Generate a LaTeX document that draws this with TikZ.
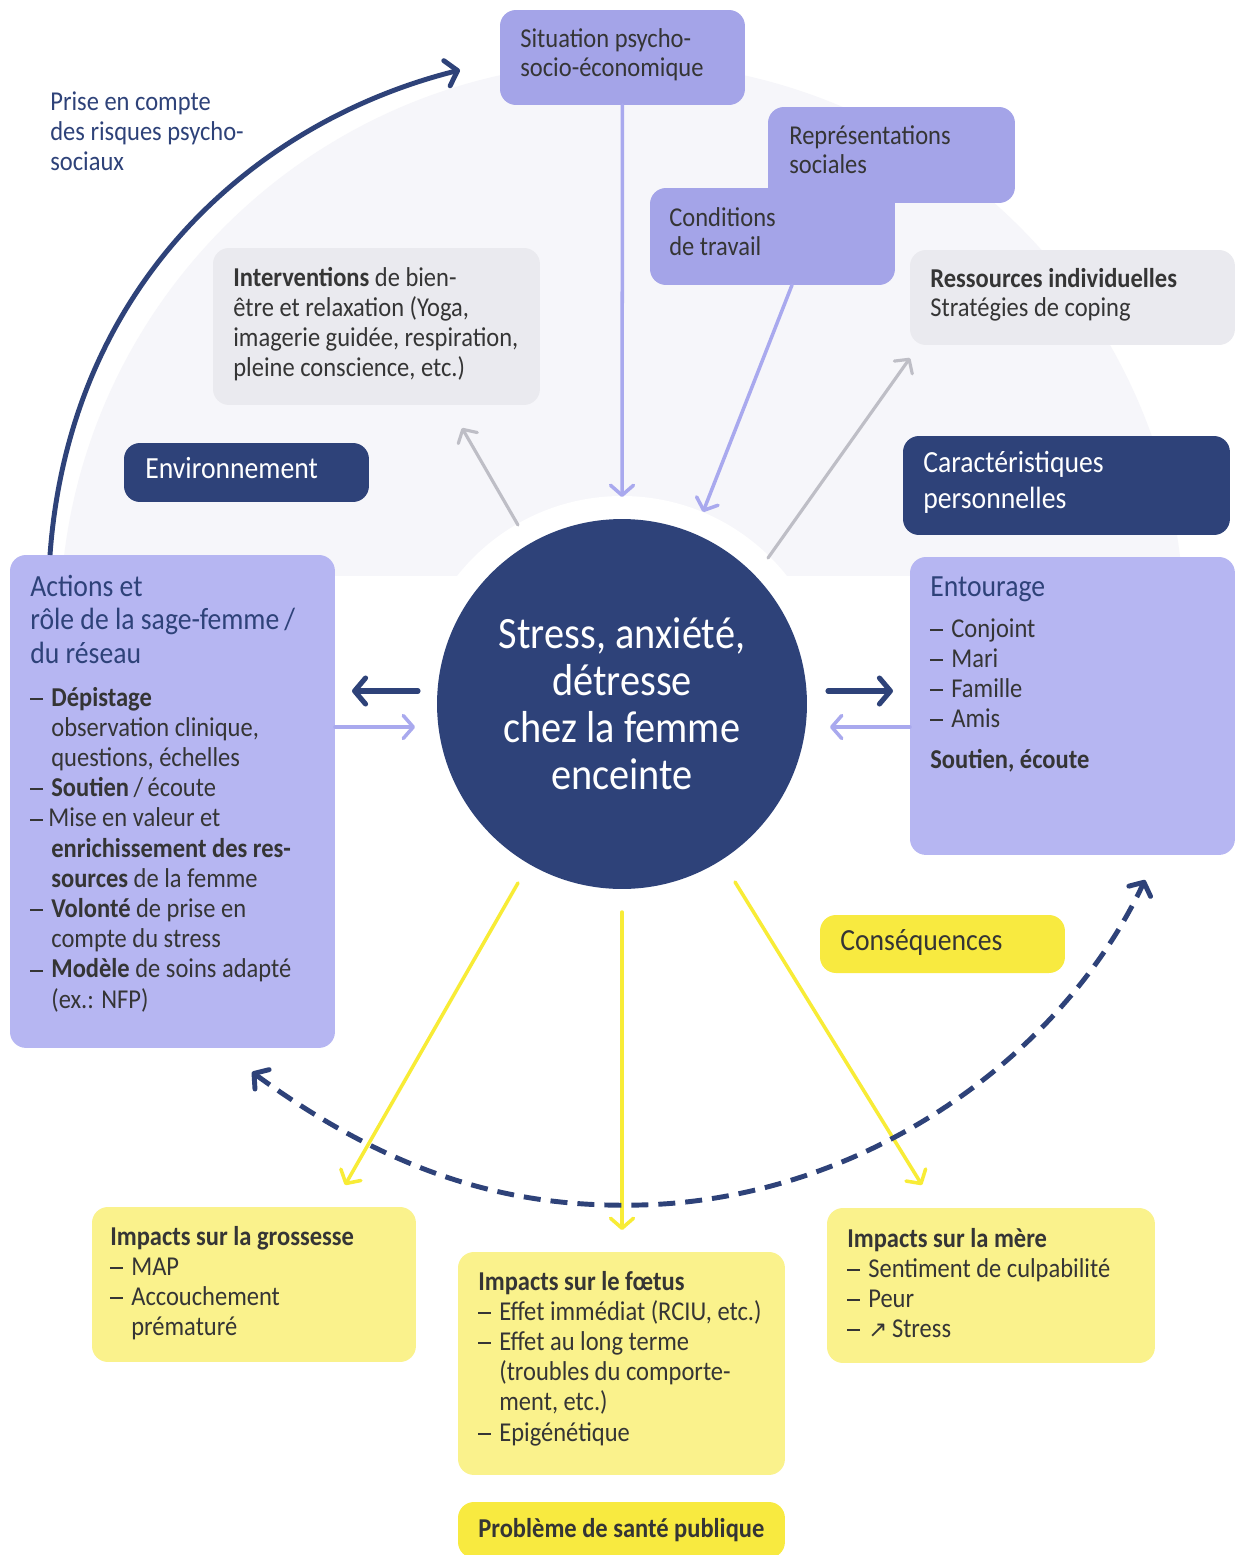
\documentclass[tikz,border=0pt]{standalone}
\usepackage{fontspec}
\setmainfont{Carlito}[FakeStretch=0.9]
\newfontfamily\symf{DejaVu Sans}
\usetikzlibrary{arrows.meta}
\definecolor{navy}{HTML}{2E4279}
\definecolor{lavtop}{HTML}{A4A4E8}
\definecolor{lavbox}{HTML}{B6B6F2}
\definecolor{greybox}{HTML}{EAEAEF}
\definecolor{bgfaint}{HTML}{F6F6FA}
\definecolor{ylight}{HTML}{FAF28C}
\definecolor{ybright}{HTML}{F8EA40}
\definecolor{yarrow}{HTML}{F8EC36}
\definecolor{lavarrow}{HTML}{A9A9EE}
\definecolor{greyarrow}{HTML}{BEBEC6}
\definecolor{txtc}{HTML}{353535}
\newcommand{\tb}[3]{\parbox[t]{9cm}{\fontsize{#1}{#2}\selectfont\raggedright #3}}
\newcommand{\dsh}{\rule[0.23em]{0.26cm}{1.1pt}}
\newcommand{\itm}[1]{\makebox[0.42cm][l]{\dsh}#1}
\newcommand{\cnt}[1]{\hspace*{0.42cm}#1}
\begin{document}
\begin{tikzpicture}[x=0.02cm,y=-0.02cm,
  rbox/.style={rounded corners=0.32cm, inner sep=0pt, outer sep=0pt, anchor=north west},
  tnode/.style={anchor=base west, inner sep=0pt, text=txtc},
  lava/.style={draw=lavarrow, line width=2pt, line cap=round, -{Straight Barb[length=0.2cm,width=0.46cm,round]}},
  greya/.style={draw=greyarrow, line width=1.8pt, line cap=round, -{Straight Barb[length=0.2cm,width=0.44cm,round]}},
  navya/.style={draw=navy, line width=2.9pt, line cap=round, -{Straight Barb[length=0.22cm,width=0.52cm,round]}},
  yela/.style={draw=yarrow, line width=2pt, line cap=round, -{Straight Barb[length=0.2cm,width=0.46cm,round]}},
  navyarc/.style={draw=navy, line width=2.8pt, -{Straight Barb[length=0.22cm,width=0.52cm,round]}},
  navydash/.style={draw=navy, line width=2.8pt, dash pattern=on 0.34cm off 0.2cm, {Straight Barb[length=0.2cm,width=0.48cm,round]}-{Straight Barb[length=0.2cm,width=0.48cm,round]}}
]
\useasboundingbox (0,0) rectangle (1235,1555);
\fill[white] (0,0) rectangle (1235,1555);
\begin{scope}
\clip (0,0) rectangle (1235,575);
\fill[bgfaint] (622,624) circle[radius=562];
\end{scope}
\fill[white] (622,706) circle[radius=210];

% boxes
\node[rbox, fill=lavtop, minimum width=4.9cm, minimum height=1.9cm] (sit) at (500,10) {};
\node[rbox, fill=lavtop, minimum width=4.94cm, minimum height=1.92cm] (repr) at (768,107) {};
\node[rbox, fill=lavtop, minimum width=4.9cm, minimum height=1.94cm] (cond) at (650,188) {};
\node[rbox, fill=greybox, minimum width=6.54cm, minimum height=3.14cm] (interv) at (213,248) {};
\node[rbox, fill=greybox, minimum width=6.5cm, minimum height=1.9cm] (ress) at (910,250) {};
\node[rbox, fill=navy, minimum width=4.9cm, minimum height=1.18cm] (env) at (124,443) {};
\node[rbox, fill=navy, minimum width=6.54cm, minimum height=1.98cm] (car) at (903,436) {};
\node[rbox, fill=lavbox, minimum width=6.5cm, minimum height=9.86cm] (act) at (10,555) {};
\node[rbox, fill=lavbox, minimum width=6.5cm, minimum height=5.96cm] (ent) at (910,557) {};
\node[rbox, fill=ybright, minimum width=4.9cm, minimum height=1.16cm] (cons) at (820,915) {};
\node[rbox, fill=ylight, minimum width=6.48cm, minimum height=3.1cm] (gro) at (92,1207) {};
\node[rbox, fill=ylight, minimum width=6.54cm, minimum height=4.46cm] (foe) at (458,1252) {};
\node[rbox, fill=ylight, minimum width=6.56cm, minimum height=3.1cm] (mer) at (827,1208) {};
\node[rbox, fill=ybright, minimum width=6.54cm, minimum height=1.12cm] (pb) at (458,1502) {};

% connector end points
\coordinate (h1) at (622,497);
\coordinate (condout) at (792,285);
\coordinate (h2) at (703,512);
\coordinate (g1s) at (518,525);
\coordinate (g1e) at (462,428);
\coordinate (g2s) at (768,558);
\coordinate (g2e) at (910,358);
\coordinate (nl1) at (418,691);
\coordinate (nl2) at (352,691);
\coordinate (la1) at (335,727);
\coordinate (la2) at (415,727);
\coordinate (nr1) at (828,691);
\coordinate (nr2) at (893,691);
\coordinate (lr1) at (910,727);
\coordinate (lr2) at (830,727);
\coordinate (y1s) at (518,883);
\coordinate (y1e) at (345,1185);
\coordinate (y2s) at (622,912);
\coordinate (y2e) at (622,1230);
\coordinate (y3s) at (735,882);
\coordinate (y3e) at (922,1185);
\coordinate (arcS) at (50,555);
\coordinate (arcE) at (460,70);
\coordinate (dS) at (252,1072);
\coordinate (dE) at (1145,880);

\draw[lava] (sit.south) -- (h1);
\draw[lava] (condout) -- (h2);
\draw[greya] (g1s) -- (g1e);
\draw[greya] (g2s) -- (g2e);
\draw[navya] (nl1) -- (nl2);
\draw[lava] (la1) -- (la2);
\draw[navya] (nr1) -- (nr2);
\draw[lava] (lr1) -- (lr2);
\draw[yela] (y1s) -- (y1e);
\draw[yela] (y2s) -- (y2e);
\draw[yela] (y3s) -- (y3e);
\draw[navyarc] (arcS) .. controls (70,280) and (260,120) .. (arcE);
\draw[navydash] (dS) .. controls (400,1180) and (520,1208) .. (640,1205) .. controls (860,1200) and (1060,1060) .. (dE);

% central circle
\node[circle, fill=navy, minimum size=7.4cm, inner sep=0pt, text=white, align=center, font=\fontsize{25.5}{26.7}\selectfont] (c) at (622,704) {Stress, anxiété,\\détresse\\chez la femme\\enceinte};

% texts
\node[tnode, text=navy] (tprise) at (50,110) {\tb{15.5}{17.3}{Prise en compte\\des risques psycho-\\sociaux}};
\node[tnode] (tsit) at (520,47) {\tb{15.5}{17.07}{Situation psycho-\\socio-économique}};
\node[tnode] (trepr) at (789,144) {\tb{15.5}{17.07}{Représentations\\sociales}};
\node[tnode] (tcond) at (669,226) {\tb{15.5}{17.07}{Conditions\\de travail}};
\node[tnode] (tinterv) at (233,286) {\tb{15.5}{17.2}{\textbf{Interventions} de bien-\\être et relaxation (Yoga,\\imagerie guidée, respiration,\\pleine conscience, etc.)}};
\node[tnode] (tress) at (930,287) {\tb{15.5}{17.07}{\textbf{Ressources individuelles}\\Stratégies de coping}};
\node[tnode, text=white] (tenv) at (145,478) {\tb{17.5}{21}{Environnement}};
\node[tnode, text=white] (tcar) at (923,472) {\tb{17.5}{21}{Caractéristiques\\personnelles}};
\node[tnode, text=navy] (tact) at (30,596) {\tb{17.5}{19.3}{Actions et\\rôle de la sage-femme\,/\\du réseau}};
\node[tnode] (tactl) at (30,706) {\tb{15.5}{17.2}{\itm{\textbf{Dépistage}}\\\cnt{observation clinique,}\\\cnt{questions, échelles}\\\itm{\textbf{Soutien}\,/\,écoute}\\\dsh\hspace{0.1cm}Mise en valeur et\\\cnt{\textbf{enrichissement des res-}}\\\cnt{\textbf{sources} de la femme}\\\itm{\textbf{Volonté} de prise en}\\\cnt{compte du stress}\\\itm{\textbf{Modèle} de soins adapté}\\\cnt{(ex.: NFP)}}};
\node[tnode, text=navy] (tent) at (930,596) {\tb{17.5}{19.3}{Entourage}};
\node[tnode] (tentl) at (930,637) {\tb{15.5}{17.2}{\itm{Conjoint}\\\itm{Mari}\\\itm{Famille}\\\itm{Amis}\\[6pt]\textbf{Soutien, écoute}}};
\node[tnode] (tcons) at (840,950) {\tb{17.5}{19}{Conséquences}};
\node[tnode] (tgro) at (110,1245) {\tb{15.5}{17.2}{\textbf{Impacts sur la grossesse}\\\itm{MAP}\\\itm{Accouchement}\\\cnt{prématuré}}};
\node[tnode] (tfoe) at (478,1290) {\tb{15.5}{17.2}{\textbf{Impacts sur le fœtus}\\\itm{Effet immédiat (RCIU, etc.)}\\\itm{Effet au long terme}\\\cnt{(troubles du comporte-}\\\cnt{ment, etc.)}\\\itm{Epigénétique}}};
\node[tnode] (tmer) at (847,1247) {\tb{15.5}{17.2}{\textbf{Impacts sur la mère}\\\itm{Sentiment de culpabilité}\\\itm{Peur}\\\itm{{\symf\fontsize{13}{15}\selectfont ↗}\,Stress}}};
\node[tnode] (tpb) at (478,1537) {\tb{15.5}{17}{\textbf{Problème de santé publique}}};
\end{tikzpicture}
\end{document}
